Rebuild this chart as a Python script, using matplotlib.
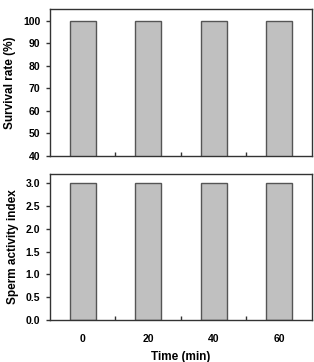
import matplotlib.pyplot as plt
import numpy as np

plt.rcParams['font.family'] = ['Liberation Sans', 'DejaVu Sans']
plt.rcParams['font.weight'] = 'bold'

times = ['0', '20', '40', '60']
survival = [100, 100, 100, 100]
activity = [3.0, 3.0, 3.0, 3.0]

bar_color = '#c0c0c0'
edge_color = '#555555'
spine_color = '#333333'


def StyleAxes(ax):
    """ Bordure, ticks mineurs entre les barres """
    for s in ax.spines.values():
        s.set_color(spine_color)
        s.set_linewidth(1.0)
    ax.set_xlim(-0.5, 3.5)
    ax.set_xticks(np.arange(len(times)))
    ax.set_xticks([0.5, 1.5, 2.5], minor=True)
    ax.tick_params(axis='x', which='major', length=0)
    ax.tick_params(axis='x', which='minor', direction='in', length=3,
                   width=1, color=spine_color)
    ax.tick_params(axis='y', which='major', direction='out', length=3,
                   width=1, color=spine_color, labelsize=7.5, pad=4)


fig = plt.figure(figsize=(3.14, 3.62), dpi=100)
ax1 = fig.add_axes([0.159, 0.570, 0.834, 0.404])
ax2 = fig.add_axes([0.159, 0.116, 0.834, 0.403])

x = np.arange(len(times))
ax1.bar(x, survival, width=0.4, color=bar_color, edgecolor=edge_color, linewidth=1)
ax1.set_ylim(40, 105)
ax1.set_yticks(np.arange(40, 101, 10))
StyleAxes(ax1)
ax1.set_xticklabels([])
ax1.set_ylabel('Survival rate (%)', fontsize=8.5, fontweight='bold', labelpad=5)

ax2.bar(x, activity, width=0.4, color=bar_color, edgecolor=edge_color, linewidth=1)
ax2.set_ylim(0, 3.2)
ax2.set_yticks(np.arange(0, 3.01, 0.5))
ax2.set_yticklabels(['%.1f' % v for v in np.arange(0, 3.01, 0.5)])
StyleAxes(ax2)
ax2.set_xticklabels(times, fontsize=7.5)
ax2.tick_params(axis='x', which='major', pad=10)
ax2.set_ylabel('Sperm activity index', fontsize=8.5, fontweight='bold', labelpad=5)
ax2.set_xlabel('Time (min)', fontsize=8.5, fontweight='bold', labelpad=5)

fig.savefig('out.png', dpi=100)
